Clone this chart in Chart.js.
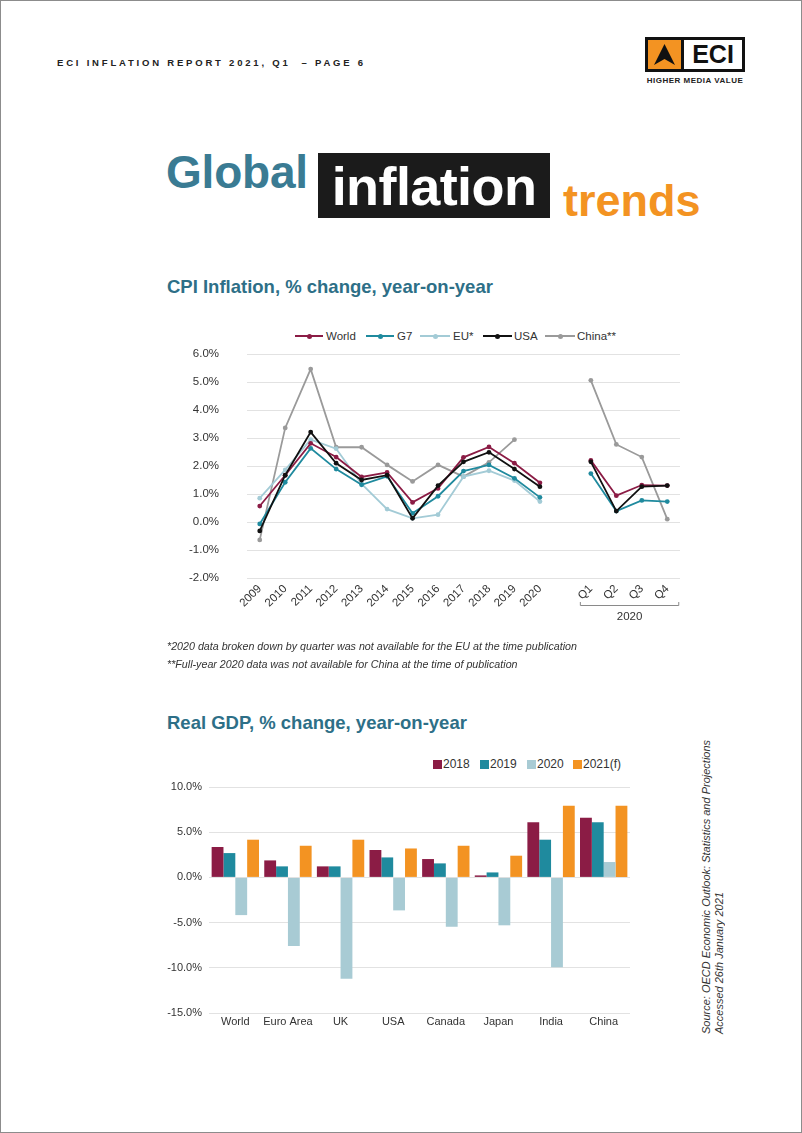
<!DOCTYPE html>
<html><head><meta charset="utf-8">
<script src="https://cdn.jsdelivr.net/npm/chart.js@4.4.1/dist/chart.umd.min.js"></script>
<style>
html,body{margin:0;padding:0;background:#fff;}
body{width:802px;height:1133px;position:relative;overflow:hidden;font-family:"Liberation Sans",Arial,sans-serif;color:#333;}
#page{position:absolute;left:0;top:0;width:800px;height:1131px;border:1px solid #8c8c8c;}
.abs{position:absolute;white-space:nowrap;}
.lg{position:absolute;font-size:11.5px;color:#333;line-height:14px;}
.lgline{position:absolute;height:2px;}
.lgdot{position:absolute;width:5px;height:5px;border-radius:50%;}
.sq{position:absolute;width:9px;height:9px;}
.bl{position:absolute;font-size:12px;color:#333;line-height:14px;}
</style></head>
<body>
<div id="page"></div>

<div class="abs" style="left:57px;top:57px;font-size:9.5px;font-weight:bold;letter-spacing:2.8px;color:#222;line-height:12px;">ECI INFLATION REPORT 2021, Q1 &nbsp;– PAGE 6</div>

<!-- logo -->
<div class="abs" style="left:645px;top:37px;width:94px;height:29px;border:3px solid #111;background:#fff;">
  <div style="position:absolute;left:0;top:0;width:33px;height:29px;background:#f39322;border-right:3px solid #111;">
    <svg width="33" height="29" viewBox="0 0 33 29"><polygon points="16.5,4 27,25 16.5,19 6,25" fill="#111"/></svg>
  </div>
  <div style="position:absolute;left:36px;top:0;width:58px;height:29px;text-align:center;font-weight:bold;font-size:25px;line-height:29px;color:#111;">ECI</div>
</div>
<div class="abs" style="left:643px;top:76px;width:104px;text-align:center;font-size:8px;font-weight:bold;color:#222;letter-spacing:0.5px;line-height:10px;">HIGHER MEDIA VALUE</div>

<!-- title -->
<div class="abs" style="left:166px;top:149px;font-size:46px;line-height:46px;font-weight:bold;color:#3a7b93;letter-spacing:-0.2px;">Global</div>
<div class="abs" style="left:318px;top:153px;width:232px;height:65px;background:#1b1b1b;"></div>
<div class="abs" style="left:318px;top:159px;width:232px;text-align:center;font-size:54px;line-height:54px;font-weight:bold;color:#fff;letter-spacing:-0.6px;">inflation</div>
<div class="abs" style="left:563px;top:178px;font-size:45px;line-height:45px;font-weight:bold;color:#f39322;letter-spacing:0px;">trends</div>

<div class="abs" style="left:167px;top:277px;font-size:18.5px;line-height:19px;font-weight:bold;color:#2d6f87;">CPI Inflation, % change, year-on-year</div>

<!-- CPI legend -->
<div class="lgline" style="left:295px;top:335px;width:28px;background:#8b1c45;"></div><div class="lgdot" style="left:306.5px;top:333.5px;background:#8b1c45;"></div><div class="lg" style="left:326px;top:329px;">World</div>
<div class="lgline" style="left:366px;top:335px;width:28px;background:#1f8a9e;"></div><div class="lgdot" style="left:377.5px;top:333.5px;background:#1f8a9e;"></div><div class="lg" style="left:397px;top:329px;">G7</div>
<div class="lgline" style="left:420px;top:335px;width:30px;background:#a3cbd6;"></div><div class="lgdot" style="left:432.5px;top:333.5px;background:#a3cbd6;"></div><div class="lg" style="left:453px;top:329px;">EU*</div>
<div class="lgline" style="left:483px;top:335px;width:29px;background:#111;"></div><div class="lgdot" style="left:495px;top:333.5px;background:#111;"></div><div class="lg" style="left:514px;top:329px;">USA</div>
<div class="lgline" style="left:545px;top:335px;width:30px;background:#9a9a9a;"></div><div class="lgdot" style="left:557.5px;top:333.5px;background:#9a9a9a;"></div><div class="lg" style="left:577px;top:329px;">China**</div>

<div class="abs" style="left:180px;top:344px;width:510px;height:300px;"><canvas id="cpi" width="510" height="300"></canvas></div>

<div class="abs" style="left:167px;top:640px;font-size:10.7px;line-height:12px;font-style:italic;color:#333;">*2020 data broken down by quarter was not available for the EU at the time publication</div>
<div class="abs" style="left:167px;top:658px;font-size:10.7px;line-height:12px;font-style:italic;color:#333;">**Full-year 2020 data was not available for China at the time of publication</div>

<div class="abs" style="left:167px;top:713px;font-size:18.5px;line-height:19px;font-weight:bold;color:#2d6f87;">Real GDP, % change, year-on-year</div>

<!-- GDP legend -->
<div class="sq" style="left:433px;top:760px;background:#8b1c45;"></div><div class="bl" style="left:443px;top:757px;">2018</div>
<div class="sq" style="left:480px;top:760px;background:#1f8a9e;"></div><div class="bl" style="left:490px;top:757px;">2019</div>
<div class="sq" style="left:527px;top:760px;background:#a8cbd4;"></div><div class="bl" style="left:537px;top:757px;">2020</div>
<div class="sq" style="left:573px;top:760px;background:#f39322;"></div><div class="bl" style="left:583px;top:757px;">2021(f)</div>

<div class="abs" style="left:150px;top:777px;width:490px;height:260px;"><canvas id="gdp" width="490" height="260"></canvas></div>

<div class="abs" style="left:700px;top:740px;height:294px;writing-mode:vertical-rl;transform:rotate(180deg);font-size:11px;line-height:13px;font-style:italic;color:#333;">Source: OECD Economic Outlook: Statistics and Projections<br>Accessed 26th January 2021</div>

<script>
// ---- CPI data ----
const cpiLabels = ['2009','2010','2011','2012','2013','2014','2015','2016','2017','2018','2019','2020','','Q1','Q2','Q3','Q4'];
const cpiWorld = [0.57, 1.67, 2.81, 2.32, 1.61, 1.77, 0.70, 1.20, 2.31, 2.68, 2.10, 1.40, null, 2.20, 0.94, 1.32, 1.30];
const cpiG7    = [-0.07, 1.42, 2.63, 1.89, 1.33, 1.63, 0.31, 0.92, 1.82, 2.04, 1.56, 0.88, null, 1.73, 0.39, 0.77, 0.73];
const cpiEU    = [0.85, 1.86, 2.94, 2.62, 1.36, 0.46, 0.13, 0.26, 1.62, 1.83, 1.48, 0.73, null, null, null, null, null];
const cpiUSA   = [-0.32, 1.67, 3.21, 2.10, 1.50, 1.67, 0.13, 1.30, 2.15, 2.49, 1.89, 1.26, null, 2.15, 0.39, 1.26, 1.30];
const cpiChina = [-0.64, 3.36, 5.46, 2.67, 2.67, 2.04, 1.45, 2.04, 1.62, 2.13, 2.94, null, null, 5.06, 2.77, 2.32, 0.10];
const cpiYTicks = [-2, -1, 0, 1, 2, 3, 4, 5, 6];
const quarterGroupLabel = '2020';

// ---- GDP data ----
const gdpCategories = ['World','Euro Area','UK','USA','Canada','Japan','India','China'];
const gdp2018 = [3.36, 1.88, 1.22, 3.03, 2.03, 0.22, 6.10, 6.60];
const gdp2019 = [2.69, 1.22, 1.22, 2.21, 1.55, 0.55, 4.17, 6.10];
const gdp2020 = [-4.17, -7.60, -11.20, -3.65, -5.46, -5.30, -9.93, 1.70];
const gdp2021 = [4.17, 3.50, 4.17, 3.20, 3.50, 2.40, 7.93, 7.93];
const gdpYTicks = [-15, -10, -5, 0, 5, 10];

const FONT = '"Liberation Sans", Arial, sans-serif';
const GRID = '#e2e2e2';

function lineDs(label, data, color, order){
  return {label, data, borderColor: color, backgroundColor: color, pointBackgroundColor: color,
    borderWidth: 1.8, pointRadius: 2.4, pointBorderWidth: 0, pointHoverRadius: 2.4,
    tension: 0, spanGaps: false, order};
}

const bracketPlugin = {
  id: 'bracket',
  afterDraw(chart){
    const xs = chart.scales.x, ctx = chart.ctx;
    const i1 = cpiLabels.indexOf('Q1'), i2 = cpiLabels.indexOf('Q4');
    const x1 = xs.getPixelForTick(i1) - 11, x2 = xs.getPixelForTick(i2) + 12;
    const y = chart.chartArea.bottom + 27;
    ctx.save();
    ctx.strokeStyle = '#8a8a8a'; ctx.lineWidth = 1;
    ctx.beginPath();
    ctx.moveTo(x1 + 0.5, y - 3); ctx.lineTo(x1 + 0.5, y + 0.5); ctx.lineTo(x2 - 0.5, y + 0.5); ctx.lineTo(x2 - 0.5, y - 3);
    ctx.stroke();
    ctx.fillStyle = '#333'; ctx.font = '11.5px ' + FONT; ctx.textAlign = 'center'; ctx.textBaseline = 'middle';
    ctx.fillText(quarterGroupLabel, (x1 + x2) / 2, y + 12);
    ctx.restore();
  }
};

new Chart(document.getElementById('cpi'), {
  type: 'line',
  data: {
    labels: cpiLabels,
    datasets: [
      lineDs('World', cpiWorld, '#8b1c45', 1),
      lineDs('G7', cpiG7, '#1f8a9e', 2),
      lineDs('EU*', cpiEU, '#a3cbd6', 3),
      lineDs('USA', cpiUSA, '#111111', 0),
      lineDs('China**', cpiChina, '#9a9a9a', 4)
    ]
  },
  options: {
    responsive: false, animation: false,
    layout: {padding: {top: 10, right: 10, left: 0, bottom: 0}},
    plugins: {legend: {display: false}, tooltip: {enabled: false}},
    scales: {
      x: {
        offset: true,
        grid: {display: false, drawTicks: false}, border: {display: false},
        ticks: {autoSkip: false, maxRotation: 45, minRotation: 45, padding: 4, color: '#333', font: {family: FONT, size: 11.5}},
        afterFit(s){ s.height = 66; }
      },
      y: {
        min: cpiYTicks[0], max: cpiYTicks[cpiYTicks.length - 1],
        afterBuildTicks(s){ s.ticks = cpiYTicks.map(v => ({value: v})); },
        grid: {color: GRID, lineWidth: 1, drawTicks: true, tickLength: 28, tickColor: 'rgba(0,0,0,0)'}, border: {display: false},
        ticks: {padding: 0, color: '#333', font: {family: FONT, size: 11.5}, callback: v => v.toFixed(1) + '%'},
        afterFit(s){ s.width = 67; }
      }
    }
  },
  plugins: [bracketPlugin]
});

function barDs(label, data, color){
  return {label, data, backgroundColor: color, borderWidth: 0, categoryPercentage: 0.9, barPercentage: 1.0};
}

new Chart(document.getElementById('gdp'), {
  type: 'bar',
  data: {
    labels: gdpCategories,
    datasets: [
      barDs('2018', gdp2018, '#8b1c45'),
      barDs('2019', gdp2019, '#1f8a9e'),
      barDs('2020', gdp2020, '#a8cbd4'),
      barDs('2021(f)', gdp2021, '#f39322')
    ]
  },
  options: {
    responsive: false, animation: false,
    layout: {padding: {top: 10, right: 10, left: 0, bottom: 0}},
    plugins: {legend: {display: false}, tooltip: {enabled: false}},
    scales: {
      x: {
        grid: {display: false, drawTicks: false}, border: {display: false},
        ticks: {padding: 2, color: '#333', font: {family: FONT, size: 11}, maxRotation: 0},
        afterFit(s){ s.height = 24; }
      },
      y: {
        min: gdpYTicks[0], max: gdpYTicks[gdpYTicks.length - 1],
        afterBuildTicks(s){ s.ticks = gdpYTicks.map(v => ({value: v})); },
        grid: {color: GRID, lineWidth: 1, drawTicks: true, tickLength: 7, tickColor: 'rgba(0,0,0,0)'}, border: {display: false},
        ticks: {padding: 0, color: '#333', font: {family: FONT, size: 11}, callback: v => v.toFixed(1) + '%'},
        afterFit(s){ s.width = 59; }
      }
    }
  }
});
</script>
</body></html>
